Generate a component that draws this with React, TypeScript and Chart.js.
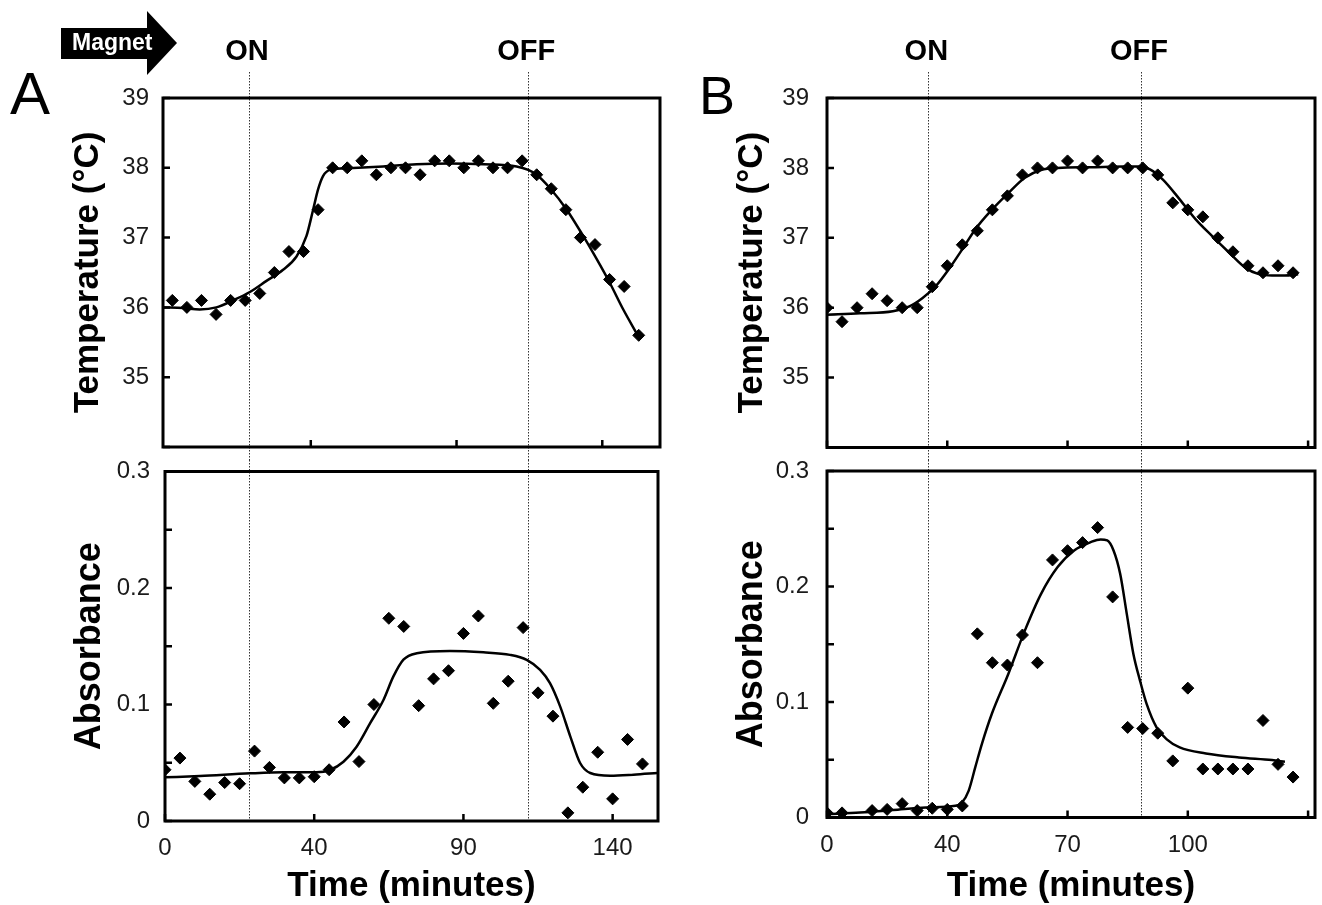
import React, { useEffect, useRef } from 'react';
import { Chart, registerables } from 'chart.js';

Chart.register(...registerables);

const FONT = '"Liberation Sans", Arial, Helvetica, sans-serif';

// ---------- Panel A : temperature ----------
const tempATime = [2.5, 7.5, 12.5, 17.5, 22.5, 27.5, 32.5, 37.5, 42.5, 47.5, 52.5, 57.5, 62.5, 67.5, 72.5, 77.5, 82.5, 87.5, 92.5, 97.5, 102.5, 107.5, 112.5, 117.5, 122.5, 127.5, 132.5, 137.5, 142.5, 147.5, 152.5, 157.5, 162.5];
const tempAValue = [36.1, 36.0, 36.1, 35.9, 36.1, 36.1, 36.2, 36.5, 36.8, 36.8, 37.4, 38.0, 38.0, 38.1, 37.9, 38.0, 38.0, 37.9, 38.1, 38.1, 38.0, 38.1, 38.0, 38.0, 38.1, 37.9, 37.7, 37.4, 37.0, 36.9, 36.4, 36.3, 35.6];
const tempAFitTime = [-0.7, 6.2, 11.9, 17.6, 23.3, 29.1, 34.8, 40.5, 45.1, 48.5, 50.8, 52.5, 54.2, 56.5, 61.1, 74.8, 86.3, 97.7, 109.2, 120.6, 124.6, 127.5, 132, 137.8, 143.5, 148.1, 152.6, 157.2, 162.3];
const tempAFitValue = [36.0, 35.99, 35.97, 36.0, 36.1, 36.22, 36.38, 36.54, 36.73, 37.02, 37.4, 37.69, 37.88, 37.97, 37.99, 38.02, 38.05, 38.06, 38.05, 38.02, 37.97, 37.9, 37.71, 37.4, 37.02, 36.69, 36.35, 35.97, 35.59];

// ---------- Panel A : absorbance ----------
const absATime = [0, 5, 10, 15, 20, 25, 30, 35, 40, 45, 50, 55, 60, 65, 70, 75, 80, 85, 90, 95, 100, 105, 110, 115, 120, 125, 130, 135, 140, 145, 150, 155, 160];
const absAValue = [0.044, 0.054, 0.034, 0.023, 0.033, 0.032, 0.060, 0.046, 0.037, 0.037, 0.038, 0.044, 0.085, 0.051, 0.100, 0.174, 0.167, 0.099, 0.122, 0.129, 0.161, 0.176, 0.101, 0.120, 0.166, 0.110, 0.090, 0.007, 0.029, 0.059, 0.019, 0.070, 0.049];
const absAFitTime = [0, 11.7, 28.5, 39.7, 50.8, 55.3, 59.8, 64.2, 68.7, 73.2, 76.5, 79.9, 84.4, 95.5, 106.7, 115.6, 121.2, 125.7, 129, 132.4, 135.8, 139.1, 142.5, 149.2, 157, 165];
const absAFitValue = [0.0375, 0.0386, 0.0409, 0.0418, 0.0418, 0.0438, 0.0509, 0.0638, 0.0838, 0.1039, 0.1239, 0.1385, 0.144, 0.146, 0.1448, 0.1426, 0.1383, 0.1297, 0.1183, 0.0984, 0.0727, 0.0498, 0.0412, 0.0389, 0.0398, 0.0412];

// ---------- Panel B : temperature ----------
const tempBTime = [0, 5, 10, 15, 20, 25, 30, 35, 40, 45, 50, 55, 60, 65, 70, 75, 80, 85, 90, 95, 100, 105, 110, 115, 120, 125, 130, 135, 140, 145, 150, 155];
const tempBValue = [36.0, 35.8, 36.0, 36.2, 36.1, 36.0, 36.0, 36.3, 36.6, 36.9, 37.1, 37.4, 37.6, 37.9, 38.0, 38.0, 38.1, 38.0, 38.1, 38.0, 38.0, 38.0, 37.9, 37.5, 37.4, 37.3, 37.0, 36.8, 36.6, 36.5, 36.6, 36.5];
const tempBFitTime = [0, 11, 21.9, 27.4, 31.8, 36.2, 40.5, 44.9, 49.3, 54.8, 60.3, 65.8, 71.2, 76.7, 87.7, 98.6, 104.1, 107.4, 111.8, 117.3, 122.7, 128.2, 133.7, 139.2, 143.6, 148, 152.3, 156.7];
const tempBFitValue = [35.9, 35.92, 35.95, 36.02, 36.14, 36.31, 36.55, 36.83, 37.12, 37.4, 37.64, 37.86, 37.97, 38.0, 38.01, 38.02, 38.02, 37.98, 37.83, 37.55, 37.26, 37.02, 36.79, 36.57, 36.48, 36.46, 36.46, 36.48];

// ---------- Panel B : absorbance ----------
const absBTime = [0, 5, 15, 20, 25, 30, 35, 40, 45, 50, 55, 60, 65, 70, 75, 80, 85, 90, 95, 100, 105, 110, 115, 120, 125, 130, 135, 140, 145, 150, 155];
const absBValue = [0.004, 0.004, 0.006, 0.007, 0.012, 0.006, 0.008, 0.007, 0.010, 0.159, 0.134, 0.132, 0.158, 0.134, 0.223, 0.231, 0.238, 0.251, 0.191, 0.078, 0.077, 0.073, 0.049, 0.112, 0.042, 0.042, 0.042, 0.042, 0.084, 0.046, 0.035];
const absBFitTime = [0, 11, 21.9, 32.9, 42.7, 44.9, 47.1, 49.3, 51.5, 54.8, 60.3, 65.8, 71.2, 76.7, 82.2, 87.7, 91, 93.2, 95.3, 97.5, 99.7, 101.9, 104.1, 106.3, 109.6, 112.9, 117.3, 126, 137, 148, 152.3];
const absBFitValue = [0.0029, 0.0043, 0.0064, 0.0087, 0.0101, 0.013, 0.0231, 0.0434, 0.0636, 0.0896, 0.1243, 0.1618, 0.1936, 0.2168, 0.2312, 0.2384, 0.2408, 0.2399, 0.2312, 0.211, 0.1763, 0.1416, 0.1185, 0.0983, 0.078, 0.0679, 0.0607, 0.0555, 0.052, 0.0497, 0.0483];

// ---------- ticks / labels ----------
const tempTickValues = [34, 35, 36, 37, 38, 39];
const tempTickLabels = ['', '35', '36', '37', '38', '39'];
const absTickValues = [0, 0.05, 0.1, 0.15, 0.2, 0.25, 0.3];
const absTickLabels = ['0', '', '0.1', '', '0.2', '', '0.3'];
const timeTickValuesATop = [50, 100, 150];
const timeTickValuesA = [0, 50, 100, 150];
const timeTickLabelsA = ['0', '40', '90', '140'];
const timeTickValuesB = [0, 40, 80, 120, 160];
const timeTickLabelsB = ['0', '40', '70', '100', ''];

// magnet switching times (ON, OFF) on each panel's own time axis
const magnetLabels = ['ON', 'OFF'];
const magnetTimesATop = [28.8, 124.6];
const magnetTimesABottom = [28.3, 121.8];
const magnetTimesB = [33.7, 104.4];

const toXY = (xs: number[], ys: number[]) => xs.map((x, i) => ({ x, y: ys[i] }));

type Spec = {
  left: number; top: number; width: number; height: number;
  area: { left: number; top: number; right: number; bottom: number };
  xMin: number; xMax: number; yMin: number; yMax: number;
  xTicks: number[]; xLabels: string[] | null;
  yTicks: number[]; yLabels: string[]; yPad: number;
  yTitle: string; yTitleSize: number;
  xTitle: string | null;
  points: { x: number; y: number }[];
  fit: { x: number; y: number }[];
  events: number[]; eventLabels: string[] | null;
  lineFrom: number; lineToArea: boolean;
};

const panelDecor = {
  id: 'panelDecor',
  beforeDatasetsDraw(chart: any, _a: any, opts: any) {
    const { ctx, chartArea, scales } = chart;
    const x = scales.x;
    ctx.save();
    ctx.strokeStyle = '#333';
    ctx.lineWidth = 1;
    ctx.setLineDash([1.5, 1.5]);
    for (const t of opts.events) {
      const px = Math.round(x.getPixelForValue(t)) + 0.5;
      ctx.beginPath();
      ctx.moveTo(px, opts.lineFrom);
      ctx.lineTo(px, opts.lineToArea ? chartArea.bottom : chart.height);
      ctx.stroke();
    }
    ctx.restore();
  },
  afterDraw(chart: any, _a: any, opts: any) {
    const { ctx, chartArea: a, scales } = chart;
    const x = scales.x;
    const y = scales.y;
    ctx.save();
    ctx.strokeStyle = '#000';
    ctx.lineWidth = 2.5;
    ctx.beginPath();
    for (const tk of y.ticks) {
      const py = y.getPixelForValue(tk.value);
      ctx.moveTo(a.left, py);
      ctx.lineTo(a.left + 7, py);
    }
    for (const tk of x.ticks) {
      const px = x.getPixelForValue(tk.value);
      ctx.moveTo(px, a.bottom);
      ctx.lineTo(px, a.bottom - 7);
    }
    ctx.stroke();
    ctx.lineWidth = 3;
    ctx.strokeRect(a.left, a.top, a.right - a.left, a.bottom - a.top);
    if (opts.eventLabels) {
      ctx.fillStyle = '#000';
      ctx.font = 'bold 29px ' + FONT;
      ctx.textAlign = 'center';
      ctx.textBaseline = 'alphabetic';
      opts.events.forEach((t: number, i: number) => {
        ctx.fillText(opts.eventLabels[i], x.getPixelForValue(t) - 2, 60);
      });
    }
    ctx.restore();
  },
};

function makeConfig(p: Spec): any {
  const half = p.yTitleSize / 2;
  const padLeft = p.area.left - p.left - 75 - half;
  const yWidth = p.area.left - p.left - padLeft;
  const xHeight = p.top + p.height - p.area.bottom;
  const xTitlePadBottom = p.height - (886 - p.top) - 17.5;
  return {
    type: 'scatter',
    data: {
      datasets: [
        {
          data: p.points,
          pointStyle: 'rectRot',
          pointRadius: 6,
          backgroundColor: '#000',
          borderColor: '#000',
          borderWidth: 1,
          showLine: false,
        },
        {
          data: p.fit,
          showLine: true,
          pointRadius: 0,
          borderColor: '#000',
          borderWidth: 2.5,
          cubicInterpolationMode: 'monotone',
          fill: false,
        },
      ],
    },
    options: {
      responsive: false,
      maintainAspectRatio: false,
      animation: false,
      events: [],
      layout: {
        padding: { left: padLeft, top: p.area.top - p.top, right: p.left + p.width - p.area.right, bottom: 0 },
      },
      plugins: {
        legend: { display: false },
        tooltip: { enabled: false },
        panelDecor: {
          events: p.events,
          eventLabels: p.eventLabels,
          lineFrom: p.lineFrom,
          lineToArea: p.lineToArea,
        },
      },
      scales: {
        x: {
          type: 'linear',
          min: p.xMin,
          max: p.xMax,
          afterBuildTicks: (s: any) => { s.ticks = p.xTicks.map((v) => ({ value: v })); },
          afterFit: (s: any) => { s.height = xHeight; s.paddingLeft = 0; s.paddingRight = 0; },
          grid: { display: false, drawTicks: false },
          border: { display: false },
          ticks: {
            display: !!p.xLabels,
            autoSkip: false,
            maxRotation: 0,
            padding: 13,
            color: '#1a1a1a',
            font: { family: FONT, size: 24 },
            callback: (_v: any, i: number) => (p.xLabels ? p.xLabels[i] : ''),
          },
          title: {
            display: !!p.xTitle,
            text: p.xTitle || '',
            color: '#000',
            font: { family: FONT, size: 35, weight: 'bold', lineHeight: 1 },
            padding: { top: 0, bottom: xTitlePadBottom },
          },
        },
        y: {
          type: 'linear',
          min: p.yMin,
          max: p.yMax,
          afterBuildTicks: (s: any) => { s.ticks = p.yTicks.map((v) => ({ value: v })); },
          afterFit: (s: any) => { s.width = yWidth; s.paddingTop = 0; s.paddingBottom = 0; },
          grid: { display: false, drawTicks: false },
          border: { display: false },
          ticks: {
            autoSkip: false,
            padding: p.yPad,
            color: '#1a1a1a',
            font: { family: FONT, size: 24 },
            callback: (_v: any, i: number) => p.yLabels[i],
          },
          title: {
            display: true,
            text: p.yTitle,
            color: '#000',
            font: { family: FONT, size: p.yTitleSize, weight: 'bold', lineHeight: 1 },
            padding: { top: 0, bottom: 0 },
          },
        },
      },
    },
    plugins: [panelDecor],
  };
}

const panels: Spec[] = [
  {
    left: 0, top: 0, width: 680, height: 460,
    area: { left: 163, top: 98, right: 660, bottom: 447 },
    xMin: -0.7, xMax: 169.8, yMin: 34, yMax: 39,
    xTicks: timeTickValuesATop, xLabels: null,
    yTicks: tempTickValues, yLabels: tempTickLabels, yPad: 14,
    yTitle: 'Temperature (°C)', yTitleSize: 35, xTitle: null,
    points: toXY(tempATime, tempAValue), fit: toXY(tempAFitTime, tempAFitValue),
    events: magnetTimesATop, eventLabels: magnetLabels, lineFrom: 72, lineToArea: false,
  },
  {
    left: 0, top: 460, width: 680, height: 445,
    area: { left: 165, top: 471.5, right: 658, bottom: 821 },
    xMin: 0, xMax: 165.2, yMin: 0, yMax: 0.3,
    xTicks: timeTickValuesA, xLabels: timeTickLabelsA,
    yTicks: absTickValues, yLabels: absTickLabels, yPad: 15,
    yTitle: 'Absorbance', yTitleSize: 36, xTitle: 'Time (minutes)',
    points: toXY(absATime, absAValue), fit: toXY(absAFitTime, absAFitValue),
    events: magnetTimesABottom, eventLabels: null, lineFrom: 0, lineToArea: true,
  },
  {
    left: 680, top: 0, width: 642, height: 460,
    area: { left: 827, top: 98, right: 1320, bottom: 447.5 },
    xMin: 0, xMax: 162.3, yMin: 34, yMax: 39,
    xTicks: timeTickValuesB, xLabels: null,
    yTicks: tempTickValues, yLabels: tempTickLabels, yPad: 18,
    yTitle: 'Temperature (°C)', yTitleSize: 35, xTitle: null,
    points: toXY(tempBTime, tempBValue), fit: toXY(tempBFitTime, tempBFitValue),
    events: magnetTimesB, eventLabels: magnetLabels, lineFrom: 72, lineToArea: false,
  },
  {
    left: 680, top: 460, width: 642, height: 445,
    area: { left: 827, top: 471, right: 1320, bottom: 817.5 },
    xMin: 0, xMax: 162.3, yMin: 0, yMax: 0.3,
    xTicks: timeTickValuesB, xLabels: timeTickLabelsB,
    yTicks: absTickValues, yLabels: absTickLabels, yPad: 18,
    yTitle: 'Absorbance', yTitleSize: 36, xTitle: 'Time (minutes)',
    points: toXY(absBTime, absBValue), fit: toXY(absBFitTime, absBFitValue),
    events: magnetTimesB, eventLabels: null, lineFrom: 0, lineToArea: true,
  },
];

function Panel({ spec }: { spec: Spec }) {
  const ref = useRef<HTMLCanvasElement>(null);
  useEffect(() => {
    if (!ref.current) return;
    const chart = new Chart(ref.current, makeConfig(spec));
    return () => chart.destroy();
  }, [spec]);
  return (
    <canvas
      ref={ref}
      width={spec.width}
      height={spec.height}
      style={{ position: 'absolute', left: spec.left, top: spec.top, width: spec.width, height: spec.height }}
    />
  );
}

export default function App() {
  return (
    <div style={{ position: 'absolute', left: 0, top: 0, width: 1322, height: 905, overflow: 'hidden', background: '#fff', fontFamily: FONT }}>
      {panels.map((p, i) => (
        <Panel key={i} spec={p} />
      ))}
      <svg width={200} height={90} style={{ position: 'absolute', left: 0, top: 0 }}>
        <polygon points="61,28 147,28 147,11 177,43 147,75 147,59 61,59" fill="#000" />
        <text x={72} y={50} fill="#fff" fontFamily={FONT} fontWeight="bold" fontSize={23}>Magnet</text>
      </svg>
      <div style={{ position: 'absolute', left: 10, top: 64, fontSize: 60, lineHeight: '60px', color: '#000' }}>A</div>
      <div style={{ position: 'absolute', left: 699, top: 68, fontSize: 54, lineHeight: '54px', color: '#000' }}>B</div>
    </div>
  );
}
